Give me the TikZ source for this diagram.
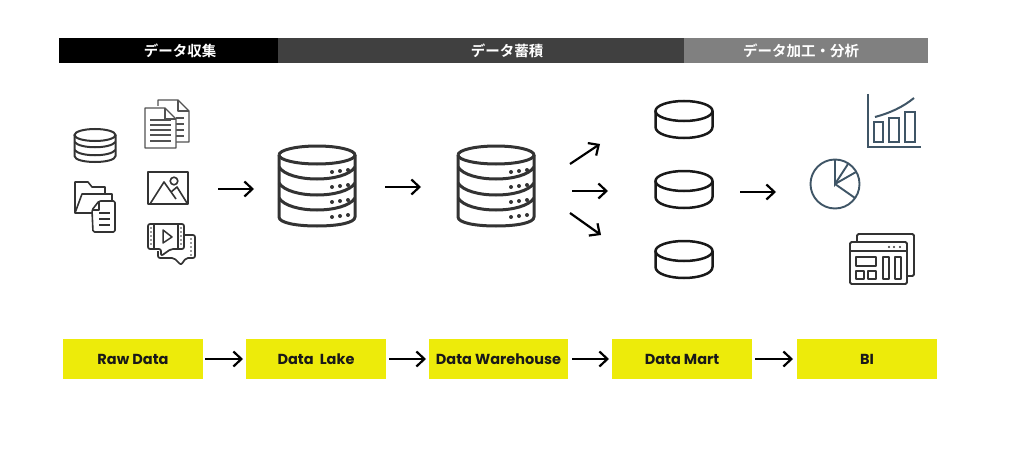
\documentclass[tikz,border=0pt]{standalone}
\usepackage{fontspec}
\setmainfont{Poppins}
\newfontfamily\cjk{Noto Sans CJK JP Bold}
\usetikzlibrary{arrows.meta}
\definecolor{ybox}{HTML}{EDEB0A}
\definecolor{slate}{HTML}{3F5566}
\definecolor{ink}{HTML}{333333}
\tikzset{
  band/.style={minimum height=25pt,inner sep=0pt,outer sep=0pt,text=white,font=\cjk\fontsize{14.5}{16}\selectfont},
  ybx/.style={fill=ybox,minimum width=140pt,minimum height=40pt,inner sep=0pt,outer sep=0pt,font=\bfseries\fontsize{14.5}{16}\selectfont,text=black!90},
  flow/.style={-{Straight Barb[length=8pt,width=15pt,line width=2.2pt]},line width=2.2pt,black},
  bigdb/.pic={
    \draw[line width=3pt,ink,line join=round] (-38,0) arc[start angle=180,end angle=-180,x radius=38,y radius=9];
    \draw[line width=3pt,ink,line join=round] (-38,0) -- (-38,62) .. controls (-38,68) and (-20,71) .. (0,71) .. controls (20,71) and (38,68) .. (38,62) -- (38,0);
    \foreach \yy in {12,28,43}{
      \draw[line width=3pt,ink] (-38,\yy) .. controls (-28,\yy+16) and (28,\yy+16) .. (38,\yy);
    }
    \foreach \yy in {16,31,46,61}{
      \foreach \xx/\dd in {15/1,23/0,31/-1}{\fill[ink] (\xx,\yy+\dd) circle[radius=2];}
    }
  },
  disc/.pic={
    \draw[line width=2.5pt,black!90] (0,0) ellipse[x radius=28.5,y radius=10];
    \draw[line width=2.5pt,black!90] (-28.5,0) -- (-28.5,16) .. controls (-28.5,23) and (-14,27) .. (0,27) .. controls (14,27) and (28.5,23) .. (28.5,16) -- (28.5,0);
  }
}
\begin{document}
\begin{tikzpicture}[x=1pt,y=-1pt]
\useasboundingbox (0,0) rectangle (1024,468);
\fill[white] (0,0) rectangle (1024,468);
% header bands
\node[band,fill=black,minimum width=219pt] (b1) at (168.5,50.5) {};
\node[band,fill=black!75,minimum width=406pt] (b2) at (481,50.5) {};
\node[band,fill=black!50,minimum width=244pt] (b3) at (806,50.5) {};
\node[band] (t1) at (180,50.5) {データ収集};
\node[band] (t2) at (507,50.5) {データ蓄積};
\node[band] (t3) at (801,50.5) {データ加工・分析};
% bottom boxes
\node[ybx] (raw) at (133,359) {Raw Data};
\node[ybx] (lake) at (316,359) {Data\ \ Lake};
\node[ybx,minimum width=139pt] (dwh) at (498.5,359) {Data Warehouse};
\node[ybx] (mart) at (682,359) {Data Mart};
\node[ybx] (bi) at (867,359) {BI};
\draw[flow,shorten <=2pt,shorten >=3pt] (raw) -- (lake);
\draw[flow,shorten <=3pt,shorten >=3pt] (lake) -- (dwh);
\draw[flow,shorten <=4pt,shorten >=3pt] (dwh) -- (mart);
\draw[flow,shorten <=3pt,shorten >=4pt] (mart) -- (bi);
% upper arrows
\coordinate (a1s) at (218,189); \coordinate (a1e) at (254,189);
\coordinate (a2s) at (385,187); \coordinate (a2e) at (421,187);
\coordinate (a3s) at (570,164); \coordinate (a3e) at (600,144);
\coordinate (a4s) at (572,191); \coordinate (a4e) at (608,191);
\coordinate (a5s) at (570,213); \coordinate (a5e) at (601,235);
\coordinate (a6s) at (740,192); \coordinate (a6e) at (776,192);
\foreach \n in {1,...,6}{\draw[flow] (a\n s) -- (a\n e);}
% databases
\pic at (317,155) {bigdb};
\pic at (496,155) {bigdb};
\pic at (684,111) {disc};
\pic at (684,181) {disc};
\pic at (684,251) {disc};
% small db
\begin{scope}[line width=2pt,ink]
\draw (95,135) ellipse[x radius=20.5,y radius=6];
\draw (74.5,135) -- (74.5,156) .. controls (74.5,160) and (85,162) .. (95,162) .. controls (105,162) and (115.5,160) .. (115.5,156) -- (115.5,135);
\draw (74.5,142) .. controls (80,149) and (110,149) .. (115.5,142);
\draw (74.5,150) .. controls (80,157) and (110,157) .. (115.5,150);
\end{scope}
% documents
\begin{scope}[line width=1.4pt,ink!85,line join=round]
\draw (158,106) -- (158,100) -- (178,100) -- (189,111) -- (189,142) -- (176,142);
\draw (178,100) -- (178,111) -- (189,111);
\foreach \yy in {118,124,130,136}{\draw (176,\yy) -- (184,\yy);}
\draw[fill=white] (145,108) -- (165,108) -- (176,119) -- (176,148) -- (145,148) -- cycle;
\draw (165,108) -- (165,119) -- (176,119);
\foreach \yy in {120,125,130,135,141}{\draw (150,\yy) -- (171,\yy);}
\end{scope}
% image
\begin{scope}[line width=1.6pt,ink,line join=round]
\draw (148,172) rectangle (188,204);
\draw (150,204) -- (164,182) -- (176,199);
\draw (171,192) -- (177,187) -- (187,203);
\draw (174,181) circle[radius=3.8];
\end{scope}
% folder and file
\begin{scope}[line width=1.6pt,ink,line join=round]
\draw (92,213) -- (75,213) -- (75,182) -- (88,182) -- (92,187) -- (105,187) -- (105,194);
\draw (75,213) -- (82,194) -- (112,194) -- (112,200);
\draw[fill=white,rounded corners=1.5pt] (92,210) -- (99,201) -- (115,201) -- (115,232) -- (93,232) -- cycle;
\draw (92,210) -- (99,210) -- (99,201);
\foreach \yy in {213,219,225}{\draw (99,\yy) -- (110,\yy);}
\end{scope}
% video
\begin{scope}[line width=1.7pt,ink,line join=round]
\draw[rounded corners=2pt] (185,235) -- (195,235) -- (195,258) -- (186,258) -- (181,265) -- (174,258) -- (158,258) -- (158,251);
\draw[rounded corners=2pt,fill=white] (148,224) -- (184,224) -- (184,249) -- (171,249) -- (161,256) -- (161,249) -- (148,249) -- cycle;
\draw (154,225) -- (154,248);
\draw (178,225) -- (178,248);
\draw[line width=1.5pt] (163,230) -- (172,237) -- (163,243) -- cycle;
\foreach \yy in {228,232,236,240,244}{
  \fill (151,\yy) circle[radius=0.9];
  \fill (181,\yy) circle[radius=0.9];
}
\foreach \yy in {239,243,247,251,255}{\fill (191,\yy) circle[radius=0.9];}
\end{scope}
% chart
\begin{scope}[line width=2pt,slate]
\draw (868,94) -- (868,147) -- (921,147);
\draw (874,122) rectangle (883,142);
\draw (889,118) rectangle (899,142);
\draw (905,112) rectangle (915,142);
\draw (875,117) .. controls (890,113) and (903,107) .. (914,98);
\end{scope}
% pie
\begin{scope}[line width=1.9pt,slate]
\draw (835,184) circle[radius=24.5];
\draw (835,160) -- (835,184) -- (848,164);
\draw (835,184) -- (856,172);
\draw (835,184) -- (855,198);
\end{scope}
% dashboard
\begin{scope}[line width=1.9pt,ink,line join=round]
\draw[rounded corners=1.5pt] (857,241) -- (857,234) -- (914,234) -- (914,276) -- (907,276);
\draw[rounded corners=1.5pt] (850,242) rectangle (907,284);
\draw (850,251) -- (907,251);
\draw (856,257) rectangle (876,266);
\draw (856,271) rectangle (864,279);
\draw (868,271) rectangle (876,279);
\draw (883,257) rectangle (889,279);
\draw (895,257) rectangle (901,279);
\foreach \xx in {889,894,900}{\fill (\xx,247) circle[radius=1.1];}
\end{scope}
\end{tikzpicture}
\end{document}
